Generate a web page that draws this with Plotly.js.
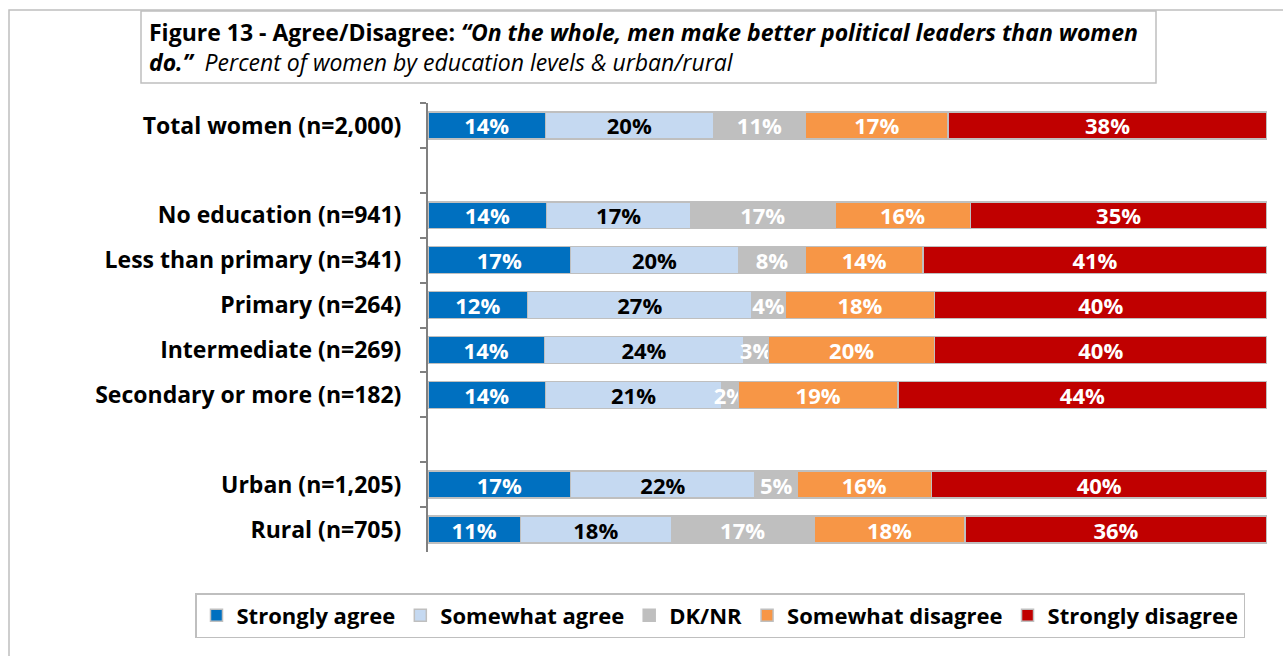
<!DOCTYPE html>
<html>
<head>
<meta charset="utf-8">
<script src="https://cdn.plot.ly/plotly-3.0.1.min.js"></script>
<style>
  html, body { margin: 0; padding: 0; background: #ffffff; }
  #chart { width: 1283px; height: 656px; }
</style>
</head>
<body>
<div id="chart"></div>
<script>
// ---- data ----
const categories = [
  'Total women (n=2,000)',
  ' ',
  'No education (n=941)',
  'Less than primary (n=341)',
  'Primary (n=264)',
  'Intermediate (n=269)',
  'Secondary or more (n=182)',
  '  ',
  'Urban (n=1,205)',
  'Rural (n=705)'
];
const seriesNames = ['Strongly agree', 'Somewhat agree', 'DK/NR', 'Somewhat disagree', 'Strongly disagree'];
const stronglyAgree    = [14, null, 14, 17, 12, 14, 14, null, 17, 11];
const somewhatAgree    = [20, null, 17, 20, 27, 24, 21, null, 22, 18];
const dkNr             = [11, null, 17,  8,  4,  3,  2, null,  5, 17];
const somewhatDisagree = [17, null, 16, 14, 18, 20, 19, null, 16, 18];
const stronglyDisagree = [38, null, 35, 41, 40, 40, 44, null, 40, 36];

const seriesValues = [stronglyAgree, somewhatAgree, dkNr, somewhatDisagree, stronglyDisagree];
const seriesColors = ['#0070C0', '#C5D9F1', '#BFBFBF', '#F79646', '#C00000'];
const labelColors  = ['#ffffff', '#000000', '#ffffff', '#ffffff', '#ffffff'];

const FONT = '"Open Sans", "Liberation Sans", sans-serif';

const traces = seriesNames.map((name, i) => ({
  type: 'bar',
  orientation: 'h',
  name: name,
  y: categories,
  x: seriesValues[i],
  text: seriesValues[i].map(v => v === null ? '' : v + '%'),
  textposition: 'inside',
  insidetextanchor: 'middle',
  constraintext: 'none',
  textangle: 0,
  textfont: { family: FONT, size: 22, color: labelColors[i], weight: 'bold' },
  marker: { color: seriesColors[i], line: { color: '#BFBFBF', width: 1.5 } },
  hoverinfo: 'skip'
}));

const L = 428, R = 16, T = 103, B = 104;
const W = 1283 - L - R, H = 656 - T - B;
const px = x => (x - L) / W;
const py = y => (656 - B - y) / H;

const layout = {
  width: 1283,
  height: 656,
  margin: { l: L, r: R, t: T, b: B },
  paper_bgcolor: '#ffffff',
  plot_bgcolor: '#ffffff',
  barmode: 'stack',
  barnorm: 'percent',
  bargap: 0.4,
  font: { family: FONT, size: 22, color: '#000000' },
  showlegend: true,
  legend: {
    orientation: 'h',
    x: px(195), xanchor: 'left',
    y: py(593), yanchor: 'top',
    bordercolor: '#BFBFBF', borderwidth: 1.5,
    bgcolor: '#ffffff',
    font: { family: FONT, size: 22, color: '#000000', weight: 'bold' },
    itemwidth: 30,
    traceorder: 'normal'
  },
  xaxis: {
    range: [0, 100],
    showgrid: false,
    zeroline: false,
    showticklabels: false,
    ticks: '',
    showline: false,
    fixedrange: true
  },
  yaxis: {
    type: 'category',
    categoryorder: 'array',
    categoryarray: categories,
    autorange: 'reversed',
    showgrid: false,
    zeroline: false,
    showline: true,
    linecolor: '#808080',
    linewidth: 2,
    ticks: 'outside',
    tickson: 'boundaries',
    ticklen: 6,
    tickwidth: 2,
    tickcolor: '#808080',
    ticklabelstandoff: 20,
    tickfont: { family: FONT, size: 23, color: '#000000', weight: 'bold' },
    fixedrange: true
  },
  shapes: [
    { type: 'rect', xref: 'paper', yref: 'paper',
      x0: px(9), x1: px(1300), y0: py(680), y1: py(10),
      line: { color: '#BFBFBF', width: 1.5 }, fillcolor: 'rgba(0,0,0,0)' },
    { type: 'rect', xref: 'paper', yref: 'paper',
      x0: px(141), x1: px(1156), y0: py(83), y1: py(11),
      line: { color: '#BFBFBF', width: 1.5 }, fillcolor: '#ffffff' }
  ],
  annotations: [
    {
      xref: 'paper', yref: 'paper',
      x: px(147), y: py(14),
      xanchor: 'left', yanchor: 'top',
      align: 'left',
      showarrow: false,
      font: { family: FONT, size: 23, color: '#000000' },
      text: '<b>Figure 13 - Agree/Disagree: <i>“On the whole, men make better political leaders than women</i></b><br><b><i>do.”</i></b><i>  Percent of women by education levels &amp; urban/rural</i>'
    }
  ]
};

Plotly.newPlot('chart', traces, layout, { displayModeBar: false, staticPlot: true });
</script>
</body>
</html>
